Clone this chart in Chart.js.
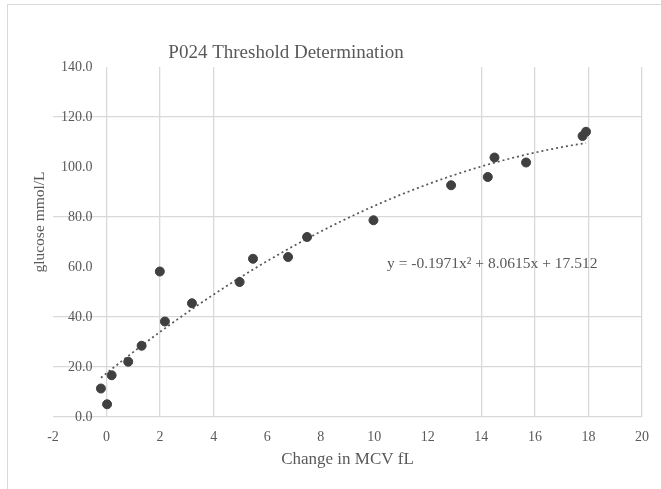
<!DOCTYPE html>
<html lang="en">
  <head>
    <meta charset="UTF-8" />
    <title>P024 Threshold Determination</title>
    <style>
      html, body {
        margin: 0;
        padding: 0;
        background: #fff;
        overflow: hidden;
      }
      .frame {
        position: absolute;
        left: 7px;
        top: 4px;
        width: 700px;
        height: 520px;
        border: 1px solid #d9d9d9;
      }
      .chart-container {
        position: absolute;
        left: 0;
        top: 0;
        width: 661px;
        height: 489px;
      }
    </style>
    <script src="https://cdn.jsdelivr.net/npm/chart.js"></script>
  </head>
  <body>
    <div class="frame"></div>
    <div class="chart-container">
      <canvas id="thresholdChart"></canvas>
    </div>

    <script>
      // change in MCV (fL) vs glucose (mmol/L)
      const mcvChange = [-0.21, 0.02, 0.19, 0.81, 1.31, 1.99, 2.18, 3.19, 4.97, 5.47, 6.78, 7.49, 9.97, 12.87, 14.24, 14.49, 15.67, 17.78, 17.91];
      const glucose = [11.4, 5.1, 16.7, 22.1, 28.5, 58.2, 38.2, 45.5, 54.0, 63.3, 64.0, 72.0, 78.7, 92.7, 96.0, 103.8, 101.8, 112.4, 114.1];

      const chartTitle = "P024 Threshold Determination";
      const xTitle = "Change in MCV fL";
      const yTitle = "glucose mmol/L";
      const equationText = "y = -0.1971x\u00b2 + 8.0615x + 17.512";

      // gridlines that show up in the picture
      const xGridShown = [0, 2, 4, 14, 16, 18, 20];
      const yGridShown = [0, 20, 40, 80, 120];

      const FONT = "'Liberation Serif', 'Times New Roman', serif";
      const TEXT = "#595959";
      const GRID = "#d9d9d9";

      // least squares quadratic, like the Excel polynomial trendline
      function fitQuadratic(xs, ys) {
        let s = [0, 0, 0, 0, 0];
        let t = [0, 0, 0];
        for (let i = 0; i < xs.length; i++) {
          const x = xs[i];
          let p = 1;
          for (let k = 0; k < 5; k++) {
            s[k] += p;
            if (k < 3) t[k] += p * ys[i];
            p *= x;
          }
        }
        const m = [
          [s[0], s[1], s[2], t[0]],
          [s[1], s[2], s[3], t[1]],
          [s[2], s[3], s[4], t[2]],
        ];
        for (let c = 0; c < 3; c++) {
          for (let r = c + 1; r < 3; r++) {
            const f = m[r][c] / m[c][c];
            for (let k = c; k < 4; k++) m[r][k] -= f * m[c][k];
          }
        }
        const coef = [0, 0, 0];
        for (let r = 2; r >= 0; r--) {
          let v = m[r][3];
          for (let k = r + 1; k < 3; k++) v -= m[r][k] * coef[k];
          coef[r] = v / m[r][r];
        }
        return coef; // c, b, a
      }

      const coef = fitQuadratic(mcvChange, glucose);
      const xMin = Math.min(...mcvChange);
      const xMax = Math.max(...mcvChange);
      const trend = [];
      for (let i = 0; i <= 80; i++) {
        const x = xMin + ((xMax - xMin) * i) / 80;
        trend.push({ x, y: coef[0] + coef[1] * x + coef[2] * x * x });
      }

      const points = mcvChange.map((x, i) => ({ x, y: glucose[i] }));

      const extraText = {
        id: "extraText",
        afterDraw(chart) {
          const ctx = chart.ctx;
          ctx.save();
          ctx.fillStyle = TEXT;
          ctx.textBaseline = "middle";

          ctx.font = "19px " + FONT;
          ctx.textAlign = "center";
          ctx.fillText(chartTitle, 286, 53);

          ctx.font = "15.5px " + FONT;
          ctx.textAlign = "left";
          ctx.fillText(equationText, 387, 264);

          ctx.font = "15.5px " + FONT;
          ctx.translate(40, 222);
          ctx.rotate(-Math.PI / 2);
          ctx.textAlign = "center";
          ctx.fillText(yTitle, 0, 0);
          ctx.restore();
        },
      };

      new Chart(document.getElementById("thresholdChart"), {
        type: "scatter",
        data: {
          datasets: [
            {
              label: "glucose",
              data: points,
              backgroundColor: "#404040",
              borderColor: "#404040",
              pointRadius: 4.5,
              pointHoverRadius: 4.5,
            },
            {
              label: "trend",
              type: "line",
              data: trend,
              borderColor: "#595959",
              borderWidth: 1.75,
              borderDash: [2, 3],
              pointRadius: 0,
              fill: false,
              tension: 0,
            },
          ],
        },
        options: {
          responsive: true,
          maintainAspectRatio: false,
          animation: false,
          layout: {
            padding: { left: 53, right: 18, top: 67, bottom: 0 },
          },
          plugins: {
            legend: { display: false },
            tooltip: { enabled: false },
          },
          scales: {
            x: {
              type: "linear",
              position: "bottom",
              min: -2,
              max: 20,
              afterFit: (s) => {
                s.height = 72;
              },
              ticks: {
                stepSize: 2,
                color: TEXT,
                padding: 12,
                font: { family: FONT, size: 14 },
              },
              grid: {
                drawTicks: false,
                color: (c) => (xGridShown.includes(c.tick.value) ? GRID : "rgba(0,0,0,0)"),
                lineWidth: 1.3,
              },
              border: { display: false },
              title: {
                display: true,
                text: xTitle,
                color: TEXT,
                font: { family: FONT, size: 17 },
                padding: { top: 0, bottom: 19 },
              },
            },
            y: {
              type: "linear",
              position: "left",
              min: 0,
              max: 140,
              afterFit: (s) => {
                s.width = 0;
              },
              ticks: {
                stepSize: 20,
                mirror: true,
                crossAlign: "far",
                padding: 8,
                color: TEXT,
                font: { family: FONT, size: 14 },
                callback: (v) => Number(v).toFixed(1),
              },
              grid: {
                drawTicks: false,
                color: (c) => (yGridShown.includes(c.tick.value) ? GRID : "rgba(0,0,0,0)"),
                lineWidth: 1.3,
              },
              border: { display: false },
            },
          },
        },
        plugins: [extraText],
      });
    </script>
  </body>
</html>
